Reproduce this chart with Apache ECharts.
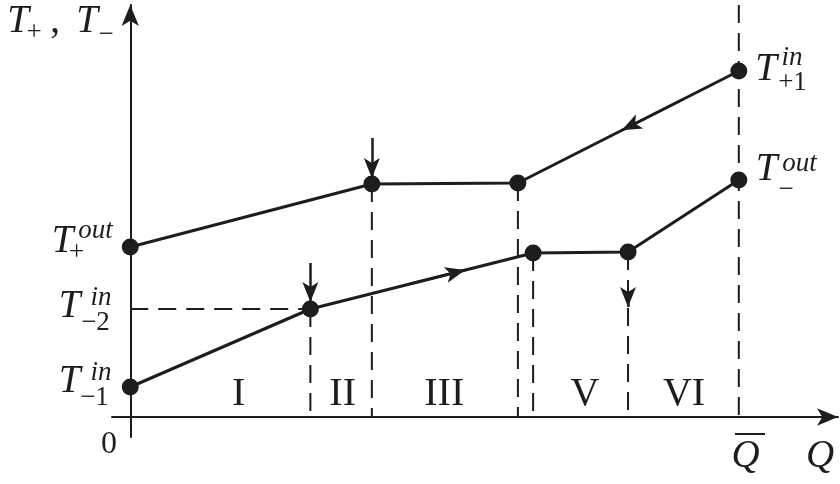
<!DOCTYPE html>
<html><head><meta charset="utf-8">
<script src="https://cdn.jsdelivr.net/npm/echarts@6/dist/echarts.min.js"></script>
<style>html,body{margin:0;padding:0;background:#fff}#c{width:840px;height:484px}</style>
</head><body><div id="c"></div>
<script>
// ---- data (Q axis: Q̄ = 10; T axis: arbitrary units) ----
const upperQ = [0, 3.97, 6.37, 10];          // T+ curve
const upperT = [4.25, 5.825, 5.85, 8.65];
const lowerQ = [0, 2.96, 6.62, 8.18, 10];    // T- curve
const lowerT = [0.75, 2.7, 4.1, 4.125, 5.925];
const Qbar = 10;
const regionNames = ['I', 'II', 'III', 'V', 'VI'];
const regionQ = [1.78, 3.49, 5.16, 7.47, 9.10];
const regionT = 0.575;
const topT = 10.3;
// arrows on vertical guides: [Q, Tstart, Ttip]
const vArrows = [[3.97, 6.975, 5.975], [2.96, 3.85, 2.875], [8.18, 3.0, 2.75]];
// arrows along segments: [curve, segIndex, fracFrom, fracTip]
const segArrows = [['upper', 2, 0.75, 0.47], ['lower', 1, 0.45, 0.695]];

const INK = '#1e1c1d';
const SERIF = '"Liberation Serif", "Times New Roman", serif';

const upper = upperQ.map((q, i) => [q, upperT[i]]);
const lower = lowerQ.map((q, i) => [q, lowerT[i]]);
const curves = { upper, lower };
function along(c, s, f) {
  const a = curves[c][s], b = curves[c][s + 1];
  return [a[0] + (b[0] - a[0]) * f, a[1] + (b[1] - a[1]) * f];
}

// dashed guides
const guides = [
  [[0, lower[1][1]], lower[1]],
  [upper[1], [upper[1][0], 0]],
  [upper[2], [upper[2][0], 0]],
  [lower[1], [lower[1][0], 0]],
  [lower[2], [lower[2][0], 0]],
  [lower[3], [lower[3][0], 0]],
  [[Qbar, topT], [Qbar, 0]]
];

const series = [];
guides.forEach(g => series.push({
  type: 'line', data: g, symbol: 'none', clip: false, silent: true, z: 1,
  lineStyle: { color: INK, width: 2, type: [18, 10] }
}));

const arrowLines = [];
vArrows.forEach(a => arrowLines.push([{ coord: [a[0], a[1]] }, { coord: [a[0], a[2]] }]));
segArrows.forEach(a => arrowLines.push([{ coord: along(a[0], a[1], a[2]) }, { coord: along(a[0], a[1], a[3]) }]));

series.push({
  type: 'line', data: upper, symbol: 'circle', symbolSize: 17, z: 3, clip: false,
  lineStyle: { color: INK, width: 3 }, itemStyle: { color: INK },
  markLine: {
    silent: true, symbol: ['none', 'arrow'], symbolSize: [12, 20],
    label: { show: false }, lineStyle: { color: INK, width: 2.5, type: 'solid' },
    data: arrowLines
  }
});
series.push({
  type: 'line', data: lower, symbol: 'circle', symbolSize: 17, z: 3, clip: false,
  lineStyle: { color: INK, width: 3 }, itemStyle: { color: INK }
});

function txt(str, cx, base, size, italic) {
  return { type: 'text', x: cx, y: base - 0.34 * size, silent: true, z: 10,
    style: { text: str, fill: INK, fontSize: size, fontFamily: SERIF,
      fontStyle: italic ? 'italic' : 'normal',
      textAlign: 'center', textVerticalAlign: 'middle', align: 'center', verticalAlign: 'middle' } };
}
const TS = 39, SS = 27;
const graphic = [
  txt('T', 18, 35, TS, true), txt('+', 34, 42, SS), txt(',', 55, 35, TS), txt('T', 87, 35, TS, true), txt('\u2212', 106, 44, SS),
  txt('T', 62.5, 255, TS, true), txt('out', 95.5, 240, SS, true), txt('+', 76.5, 262, SS),
  txt('T', 69.5, 320, TS, true), txt('in', 101, 307, SS, true), txt('\u22122', 95.5, 332, SS),
  txt('T', 69.5, 395, TS, true), txt('in', 101, 382, SS, true), txt('\u22121', 94.5, 407, SS),
  txt('T', 766, 83, TS, true), txt('in', 792, 67, SS, true), txt('+1', 792.5, 92, SS),
  txt('T', 766.5, 183, TS, true), txt('out', 799.5, 173, SS, true), txt('\u2212', 786, 199, SS),
  txt('0', 109, 455, 32),
  txt('Q', 745.5, 470, TS, true),
  { type: 'line', silent: true, shape: { x1: 735, y1: 434, x2: 765, y2: 434 }, style: { stroke: INK, lineWidth: 2 } },
  txt('Q', 820, 470, TS, true)
];

const axisCommon = {
  type: 'value', axisTick: { show: false }, axisLabel: { show: false }, splitLine: { show: false },
  axisLine: { show: true, onZero: true, symbol: ['none', 'arrow'], symbolSize: [13, 21],
    lineStyle: { color: INK, width: 2 } }
};
const chart = echarts.init(document.getElementById('c'), null, { renderer: 'canvas' });
chart.setOption({
  animation: false,
  backgroundColor: '#fff',
  grid: { left: 112, right: 2, top: 5, bottom: 47, containLabel: false },
  xAxis: Object.assign({}, axisCommon, { min: -0.3, max: 11.63 }),
  yAxis: Object.assign({}, axisCommon, { min: -0.5, max: 10.3 }),
  series: series,
  graphic: graphic
});
// region numerals placed through the axes' scales
const regionGraphics = regionQ.map((q, i) => {
  const p = chart.convertToPixel({ gridIndex: 0 }, [q, regionT]);
  return { type: 'text', x: p[0], y: p[1], silent: true, z: 10,
    style: { text: regionNames[i], fill: INK, fontSize: 40, fontFamily: SERIF,
      textAlign: 'center', textVerticalAlign: 'middle', align: 'center', verticalAlign: 'middle' } };
});
chart.setOption({ graphic: graphic.concat(regionGraphics) });
</script></body></html>
